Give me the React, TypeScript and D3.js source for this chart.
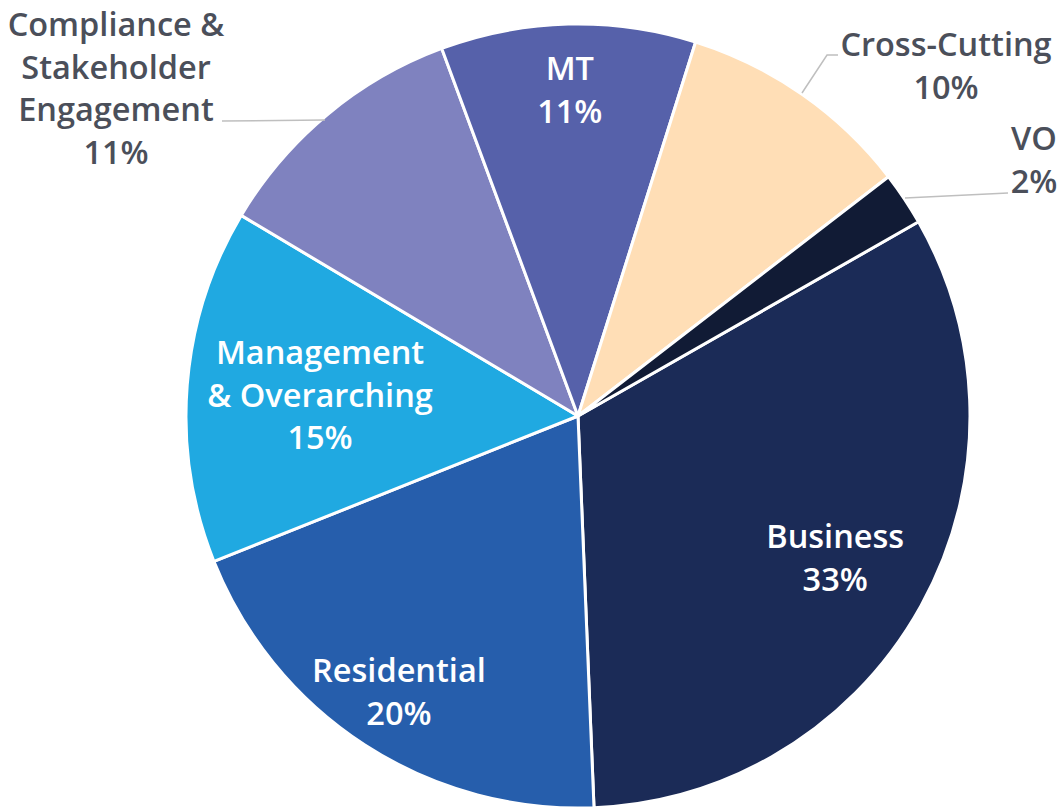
import React from "react";
import * as d3 from "d3";

const categories = ["Business", "Residential", "Management & Overarching", "Compliance & Stakeholder Engagement", "MT", "Cross-Cutting", "VO"];
const values = [32.6, 19.6, 14.6, 10.8, 10.5, 9.7, 2.2];
const colors = ["#1B2B57", "#265EAC", "#20A9E1", "#7F82BF", "#5661AA", "#FFDEB6", "#111B35"];
const labelLines = [["Business"], ["Residential"], ["Management", "& Overarching"], ["Compliance &", "Stakeholder", "Engagement"], ["MT"], ["Cross-Cutting"], ["VO"]];

// layout for labels (inside: polar ratio; outside: absolute anchor + leader)
const inside = [
  { r: 0.75, inside: true },
  { r: 0.84, inside: true },
  { r: 0.66, inside: true },
  { inside: false, x: 116, y: 36, leader: [[325, 120], [222, 121]] },
  { r: 0.83, inside: true },
  { inside: false, x: 946, y: 56, leader: [[802, 93], [827, 55], [838, 55]] },
  { inside: false, x: 1034, y: 150, leader: [[905, 198], [1008, 193]] },
];

export default function App() {
  const W = 1059, H = 810;
  const cx = 578, cy = 416, R = 392;
  const startDeg = 60.3;
  const pie = d3.pie<number>().sort(null).value((d) => d)
    .startAngle((startDeg * Math.PI) / 180)
    .endAngle((startDeg * Math.PI) / 180 + 2 * Math.PI);
  const arcs = pie(values);
  const arc = d3.arc<d3.PieArcDatum<number>>().innerRadius(0).outerRadius(R);
  const lh = 42.5;
  const fs = 32.5;
  const font = "'Open Sans', sans-serif";
  return (
    <svg width={W} height={H} style={{ position: "absolute", left: 0, top: 0 }}>
      <g transform={`translate(${cx},${cy})`}>
        {arcs.map((a, i) => (
          <path key={i} d={arc(a) || ""} fill={colors[i]} stroke="#fff" strokeWidth={3} strokeLinejoin="round" />
        ))}
      </g>
      {arcs.map((a, i) => {
        const L = inside[i] as any;
        const pct = Math.round(a.data) + "%";
        const lines = [...labelLines[i], pct];
        if (L.inside) {
          const mid = (a.startAngle + a.endAngle) / 2;
          const x = cx + Math.sin(mid) * R * L.r;
          const yc = cy - Math.cos(mid) * R * L.r;
          const y0 = yc - ((lines.length - 1) * lh) / 2 + 11;
          return (
            <text key={i} x={x} y={y0} textAnchor="middle" fill="#fff" fontFamily={font} fontWeight={600} fontSize={fs}>
              {lines.map((t, j) => (
                <tspan key={j} x={x} y={y0 + j * lh}>{t}</tspan>
              ))}
            </text>
          );
        }
        return (
          <g key={i}>
            <polyline points={L.leader.map((p: number[]) => p.join(",")).join(" ")} fill="none" stroke="#BFBFBF" strokeWidth={1.5} />
            <text x={L.x} y={L.y} textAnchor="middle" fill="#4B4F5A" fontFamily={font} fontWeight={600} fontSize={fs}>
              {lines.map((t, j) => (
                <tspan key={j} x={L.x} y={L.y + j * lh}>{t}</tspan>
              ))}
            </text>
          </g>
        );
      })}
    </svg>
  );
}
